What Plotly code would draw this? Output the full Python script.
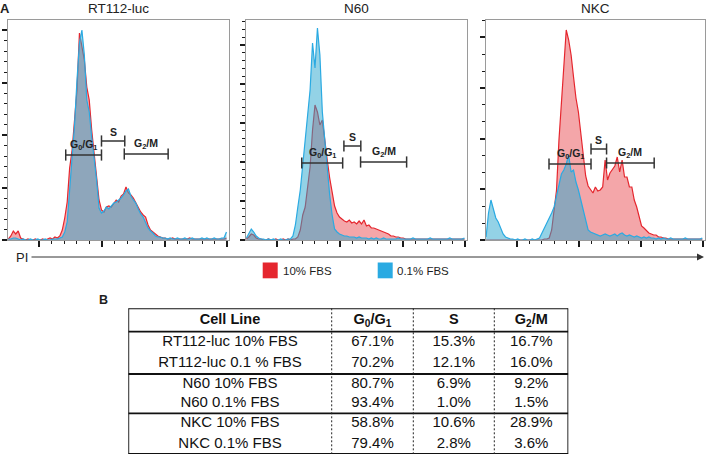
import plotly.graph_objects as go

W, H = 708, 456
FONT = "Liberation Sans, Arial, sans-serif"

# PI channel bin centres (linear DNA-content scale)
PI_CHANNELS = list(range(130, 1030, 10))

PANELS = ["RT112-luc", "N60", "NKC"]
SERIES = ["10% FBS", "0.1% FBS"]

# cell counts per PI bin
RT112_10 = [1, 4, 9, 6, 9, 2, 1, 0, 1, 0,
            0, 1, 0, 0, 1, 0, 1, 2, 1, 3,
            2, 4, 10, 22, 38, 72, 90, 122, 150, 207,
            195, 180, 153, 140, 110, 88, 68, 40, 30, 28,
            33, 34, 33, 36, 40, 38, 44, 46, 53, 47,
            45, 42, 37, 33, 28, 25, 23, 15, 10, 8,
            6, 4, 3, 2, 2, 1, 1, 2, 1, 1,
            1, 1, 1, 1, 2, 1, 1, 1, 1, 1,
            1, 1, 1, 1, 1, 1, 1, 1, 1, 2]
RT112_01 = [1, 1, 2, 2, 1, 0, 1, 0, 0, 1,
            0, 0, 1, 0, 0, 1, 0, 0, 1, 1,
            1, 2, 3, 8, 18, 50, 83, 115, 160, 197,
            210, 185, 140, 128, 103, 83, 60, 32, 27, 29,
            33, 31, 34, 37, 38, 40, 42, 45, 49, 51,
            44, 40, 37, 31, 26, 23, 17, 12, 9, 7,
            4, 3, 3, 2, 2, 1, 2, 1, 1, 2,
            1, 1, 2, 1, 1, 2, 1, 1, 1, 2,
            1, 2, 1, 1, 2, 1, 1, 2, 2, 8]
N60_10 = [1, 3, 6, 5, 2, 1, 1, 0, 0, 1,
          0, 0, 1, 0, 0, 1, 0, 1, 0, 1,
          1, 3, 10, 25, 33, 55, 73, 110, 135, 128,
          115, 120, 98, 80, 62, 46, 34, 27, 23, 21,
          19, 18, 20, 17, 18, 16, 19, 16, 20, 14,
          15, 12, 12, 11, 10, 9, 8, 7, 6, 4,
          4, 3, 3, 2, 2, 1, 1, 1, 1, 1,
          1, 1, 1, 1, 1, 1, 1, 1, 1, 1,
          1, 1, 1, 1, 1, 1, 1, 1, 1, 1]
N60_01 = [2, 6, 11, 8, 4, 2, 1, 1, 0, 1,
          0, 1, 0, 0, 1, 0, 0, 1, 1, 4,
          15, 33, 50, 75, 100, 118, 150, 197, 172, 212,
          185, 128, 100, 72, 45, 25, 11, 8, 6, 5,
          4, 4, 3, 3, 3, 2, 3, 2, 2, 2,
          1, 2, 1, 2, 1, 1, 2, 1, 1, 1,
          1, 1, 2, 1, 1, 1, 1, 1, 2, 1,
          1, 1, 1, 1, 1, 2, 1, 1, 1, 1,
          1, 1, 1, 2, 1, 1, 1, 1, 1, 2]
NKC_10 = [0, 0, 0, 0, 0, 0, 0, 0, 0, 0,
          0, 0, 0, 0, 0, 0, 0, 0, 0, 0,
          0, 0, 0, 0, 1, 1, 2, 10, 30, 50,
          100, 140, 173, 210, 200, 185, 163, 142, 128, 108,
          84, 64, 54, 50, 47, 53, 49, 50, 53, 80,
          60, 67, 70, 74, 83, 68, 80, 63, 63, 53,
          53, 40, 33, 23, 14, 12, 9, 7, 6, 5,
          5, 3, 3, 2, 2, 1, 1, 1, 1, 1,
          1, 1, 1, 1, 1, 1, 1, 1, 1, 1]
NKC_01 = [3, 27, 40, 32, 22, 18, 12, 6, 3, 2,
          1, 1, 0, 1, 0, 0, 1, 0, 0, 1,
          0, 1, 2, 7, 12, 16, 22, 27, 33, 43,
          55, 66, 70, 76, 85, 68, 70, 58, 50, 40,
          30, 18, 10, 8, 7, 6, 5, 4, 5, 6,
          5, 4, 5, 6, 4, 6, 7, 5, 4, 5,
          4, 3, 4, 3, 2, 3, 2, 3, 2, 2,
          1, 2, 1, 2, 1, 1, 2, 1, 1, 1,
          1, 1, 2, 1, 1, 1, 1, 1, 1, 2]

HISTS = [(RT112_10, RT112_01), (N60_10, N60_01), (NKC_10, NKC_01)]

# gates: (start channel, end channel, marker height)
GATE_NAMES = ["G<sub>0</sub>/G<sub>1</sub>", "S", "G<sub>2</sub>/M"]
RT112_GATES = [(364, 510, 85), (510, 605, 99), (603, 782, 86)]
N60_GATES = [(356, 523, 77), (528, 597, 94), (596, 784, 78)]
NKC_GATES = [(389, 562, 76), (562, 626, 91), (626, 822, 77)]
GATES = [RT112_GATES, N60_GATES, NKC_GATES]

# table B
TABLE_HEADER = ["Cell Line", "G<sub>0</sub>/G<sub>1</sub>", "S", "G<sub>2</sub>/M"]
CELL_LINES = ["RT112-luc 10% FBS", "RT112-luc 0.1 % FBS", "N60 10% FBS",
              "N60 0.1% FBS", "NKC 10% FBS", "NKC 0.1% FBS"]
G0G1_PCT = [67.1, 70.2, 80.7, 93.4, 58.8, 79.4]
S_PCT = [15.3, 12.1, 6.9, 1.0, 10.6, 2.8]
G2M_PCT = [16.7, 16.0, 9.2, 1.5, 28.9, 3.6]

RED_LINE, RED_FILL = "#e5262e", "rgba(228,32,40,0.40)"
BLUE_LINE, BLUE_FILL = "#2aaae2", "rgba(40,165,205,0.50)"
INK = "#1a1a1a"

# layout geometry (pixels)
PANEL_X = [(7.9, 228.9), (245.9, 466.9), (485.6, 704.7)]
PANEL_TOP, PANEL_BOTTOM = 20, 240
Y_MAJOR = [52.5, 39.0, 50.7]
Y_MINOR = [10.5, 7.8, 16.9]
X_MAJOR = [256, 512, 768, 1024]
X_MINOR = [256 + 51.2 * k for k in range(16)]

TBL_X = (128.3, 568.3)
TBL_Y = (308.3, 454.0)
COL_EDGES = [0, 203.4, 285, 366, 440]
ROW_EDGES = [0, 23.4, 44.6, 65.7, 85.4, 105.0, 125.4, 145.7]
THICK_ROWS = [0, 1, 3, 5, 7]


def px(x):
    return x / W


def py(y):
    return 1 - y / H


def paper_text(x, y, text, size, xanchor="center", bold=False):
    return dict(x=px(x), y=py(y), xref="paper", yref="paper", showarrow=False,
                text=f"<b>{text}</b>" if bold else text, xanchor=xanchor, yanchor="middle",
                font=dict(size=size, family=FONT, color="#1e1e1e"))


fig = go.Figure()
layout = dict(
    width=W, height=H, margin=dict(l=0, r=0, t=0, b=0),
    paper_bgcolor="white", plot_bgcolor="white", showlegend=False,
    font=dict(family=FONT, color=INK),
)
annotations, shapes = [], []

for p, name in enumerate(PANELS):
    sfx = "" if p == 0 else str(p + 1)
    xa, ya = "x" + sfx, "y" + sfx
    red, blue = HISTS[p]
    for vals, lc, fc, nm in [(red, RED_LINE, RED_FILL, SERIES[0]), (blue, BLUE_LINE, BLUE_FILL, SERIES[1])]:
        fig.add_trace(go.Scatter(
            x=PI_CHANNELS, y=vals, xaxis=xa, yaxis=ya, mode="lines", name=nm,
            line=dict(color=lc, width=1.2), fill="tozeroy", fillcolor=fc,
        ))
    for (g0, g1, gh), gname in zip(GATES[p], GATE_NAMES):
        fig.add_trace(go.Scatter(
            x=[g0, g1], y=[gh, gh], xaxis=xa, yaxis=ya, mode="lines+markers",
            line=dict(color="#333333", width=1.5),
            marker=dict(symbol="line-ns", size=8, line=dict(width=1.5, color="#333333")),
            hoverinfo="skip",
        ))
        annotations.append(dict(
            x=(g0 + g1) / 2, y=gh, xref=xa, yref=ya, text="<b>" + gname + "</b>",
            showarrow=False, xanchor="center", yanchor="bottom", yshift=1,
            font=dict(size=10.5, color="#222222", family=FONT),
        ))
    x0, x1 = PANEL_X[p]
    layout["xaxis" + sfx] = dict(
        domain=[px(x0), px(x1)], anchor=ya, range=[128, 1030],
        showgrid=False, zeroline=False, showline=True, linecolor="#9a9a9a", linewidth=1, mirror=True,
        ticks="outside", tickvals=X_MAJOR, ticklen=6, tickwidth=2, tickcolor=INK, showticklabels=False,
        minor=dict(tickvals=X_MINOR, ticks="outside", ticklen=3, tickwidth=1, tickcolor=INK),
    )
    layout["yaxis" + sfx] = dict(
        domain=[py(PANEL_BOTTOM), py(PANEL_TOP)], anchor=xa, range=[0, 220],
        showgrid=False, zeroline=False, showline=True, linecolor="#9a9a9a", linewidth=1, mirror=True,
        ticks="outside", tickmode="linear", tick0=0, dtick=Y_MAJOR[p], ticklen=5, tickwidth=1.5,
        tickcolor=INK, showticklabels=False,
        minor=dict(ticks="outside", tick0=0, dtick=Y_MINOR[p], ticklen=3, tickwidth=1, tickcolor=INK),
    )
    annotations.append(dict(
        x=0.5, y=1, xref=xa + " domain", yref=ya + " domain", text=name, showarrow=False,
        xanchor="center", yanchor="bottom", yshift=2, font=dict(size=13.5, color="#222222", family=FONT),
    ))

# panel letters
annotations.append(paper_text(5, 8.5, "A", 13, bold=True))
annotations.append(paper_text(103.5, 299.5, "B", 12.5, bold=True))

# PI axis arrow
annotations.append(paper_text(21.5, 257.5, "PI", 13))
annotations.append(dict(x=px(704), y=py(257), xref="paper", yref="paper", text=" ",
                        showarrow=True, ax=-(704 - 30), ay=0, arrowhead=2, arrowsize=1.4,
                        arrowwidth=1, arrowcolor="#333333", font=dict(size=1)))

# legend
for (sx, tx), nm, col in zip([(262.7, 281), (377.7, 395)], SERIES, [RED_LINE, BLUE_LINE]):
    shapes.append(dict(type="rect", xref="paper", yref="paper", x0=px(sx), x1=px(sx + 15),
                       y0=py(278.3), y1=py(262.5), fillcolor=col, line=dict(width=0)))
    annotations.append(paper_text(tx, 270.5, nm, 11.5, xanchor="left"))

# table B
layout["xaxis4"] = dict(domain=[px(TBL_X[0]), px(TBL_X[1])], anchor="y4", range=[0, COL_EDGES[-1]],
                        visible=False, fixedrange=True)
layout["yaxis4"] = dict(domain=[py(TBL_Y[1]), py(TBL_Y[0])], anchor="x4", range=[ROW_EDGES[-1], 0],
                        visible=False, fixedrange=True)
col_mid = [(a + b) / 2 for a, b in zip(COL_EDGES[:-1], COL_EDGES[1:])]
row_mid = [(a + b) / 2 for a, b in zip(ROW_EDGES[:-1], ROW_EDGES[1:])]

fig.add_trace(go.Scatter(
    x=col_mid, y=[row_mid[0]] * 4, xaxis="x4", yaxis="y4", mode="text",
    text=["<b>" + t + "</b>" for t in TABLE_HEADER], textposition="middle center",
    textfont=dict(size=14.5, family=FONT, color="#111111"), hoverinfo="skip",
))
columns = [CELL_LINES,
           [f"{v:.1f}%" for v in G0G1_PCT],
           [f"{v:.1f}%" for v in S_PCT],
           [f"{v:.1f}%" for v in G2M_PCT]]
for c, col in enumerate(columns):
    fig.add_trace(go.Scatter(
        x=[col_mid[c]] * len(col), y=row_mid[1:], xaxis="x4", yaxis="y4", mode="text",
        text=col, textposition="middle center",
        textfont=dict(size=15, family=FONT, color="#111111"), hoverinfo="skip",
    ))

for r in THICK_ROWS:
    shapes.append(dict(type="line", xref="x4", yref="y4", x0=0, x1=COL_EDGES[-1],
                       y0=ROW_EDGES[r], y1=ROW_EDGES[r], line=dict(color="#111111", width=1.8)))
for c in [0, len(COL_EDGES) - 1]:
    shapes.append(dict(type="line", xref="x4", yref="y4", x0=COL_EDGES[c], x1=COL_EDGES[c],
                       y0=0, y1=ROW_EDGES[-1], line=dict(color="#111111", width=1.8)))
for c in range(1, len(COL_EDGES) - 1):
    shapes.append(dict(type="line", xref="x4", yref="y4", x0=COL_EDGES[c], x1=COL_EDGES[c],
                       y0=0, y1=ROW_EDGES[-1], line=dict(color="#222222", width=1, dash="2px,2px")))

layout["annotations"] = annotations
layout["shapes"] = shapes
fig.update_layout(**layout)

# the page body's default 8px margin would push the fixed-size figure off the window
fig.write_html("out.html", config={"displayModeBar": False},
               post_script="document.body.style.margin='0';document.body.style.overflow='hidden';")
